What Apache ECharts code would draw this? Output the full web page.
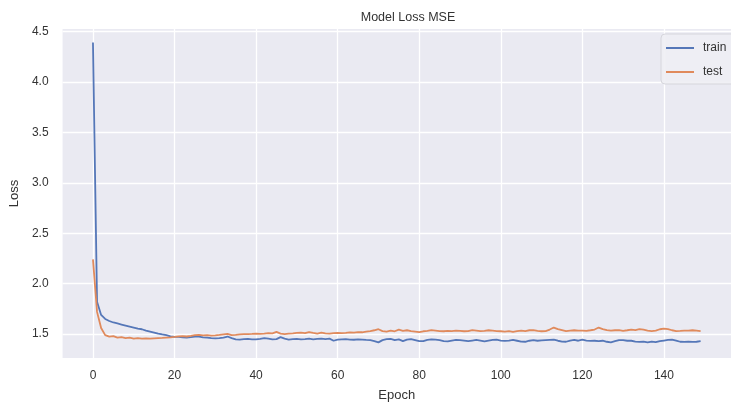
<!DOCTYPE html>
<html><head><meta charset="utf-8">
<script src="https://cdn.jsdelivr.net/npm/echarts@6/dist/echarts.min.js"></script>
<style>html,body{margin:0;padding:0;background:#fff}#c{width:731px;height:407px}</style>
</head><body><div id="c"></div>
<script>
const title = "Model Loss MSE";
const xName = "Epoch";
const yName = "Loss";
const seriesNames = ["train", "test"];
const xTicks = [0, 20, 40, 60, 80, 100, 120, 140];
const yTicks = [1.5, 2.0, 2.5, 3.0, 3.5, 4.0, 4.5];
const train = [4.39,1.82,1.69,1.65,1.63,1.615,1.605,1.595,1.585,1.575,
1.565,1.555,1.548,1.535,1.525,1.515,1.505,1.497,1.49,1.478,
1.472,1.472,1.468,1.465,1.47,1.476,1.474,1.468,1.465,1.46,
1.458,1.46,1.465,1.476,1.46,1.448,1.445,1.45,1.452,1.448,
1.447,1.452,1.46,1.455,1.448,1.45,1.47,1.455,1.446,1.45,
1.452,1.448,1.45,1.455,1.448,1.452,1.456,1.45,1.455,1.434,
1.445,1.448,1.45,1.446,1.444,1.447,1.445,1.442,1.44,1.43,
1.418,1.44,1.45,1.452,1.44,1.447,1.43,1.445,1.45,1.44,
1.43,1.43,1.442,1.447,1.445,1.44,1.43,1.428,1.436,1.442,
1.44,1.436,1.43,1.436,1.442,1.436,1.428,1.436,1.442,1.444,
1.436,1.432,1.436,1.442,1.434,1.426,1.424,1.434,1.44,1.434,
1.438,1.44,1.442,1.444,1.434,1.426,1.424,1.436,1.442,1.434,
1.444,1.436,1.432,1.434,1.43,1.434,1.424,1.418,1.43,1.44,
1.44,1.434,1.434,1.426,1.422,1.426,1.418,1.426,1.42,1.43,
1.436,1.442,1.444,1.436,1.424,1.422,1.426,1.422,1.424,1.43];
const test = [2.24,1.72,1.56,1.49,1.475,1.48,1.465,1.47,1.46,1.465,
1.455,1.46,1.455,1.457,1.455,1.458,1.46,1.462,1.465,1.468,
1.472,1.478,1.48,1.476,1.482,1.49,1.492,1.488,1.49,1.485,
1.488,1.492,1.498,1.502,1.49,1.492,1.498,1.5,1.5,1.502,
1.505,1.503,1.505,1.51,1.508,1.522,1.505,1.5,1.505,1.508,
1.512,1.515,1.51,1.52,1.512,1.505,1.515,1.508,1.505,1.51,
1.512,1.51,1.512,1.518,1.515,1.52,1.518,1.525,1.53,1.538,
1.548,1.53,1.525,1.535,1.528,1.545,1.532,1.538,1.53,1.525,
1.52,1.528,1.532,1.54,1.535,1.53,1.528,1.532,1.53,1.535,
1.532,1.528,1.53,1.54,1.535,1.53,1.532,1.538,1.535,1.53,
1.528,1.525,1.53,1.522,1.53,1.535,1.53,1.538,1.54,1.532,
1.528,1.53,1.545,1.565,1.55,1.54,1.53,1.535,1.538,1.535,
1.535,1.532,1.538,1.545,1.565,1.55,1.54,1.535,1.538,1.54,
1.532,1.538,1.545,1.54,1.55,1.545,1.535,1.53,1.535,1.548,
1.555,1.55,1.538,1.53,1.532,1.535,1.535,1.538,1.535,1.53];

const toXY = arr => arr.map((v, i) => [i, v]);
const txt = '#333333';
const font = 'Liberation Sans, Arial, sans-serif';
const chart = echarts.init(document.getElementById('c'), null, {renderer: 'canvas'});
chart.setOption({
  animation: false,
  backgroundColor: '#ffffff',
  title: {text: title, left: 403, textAlign: 'center', top: 6,
    textStyle: {fontSize: 12.5, fontWeight: 'normal', color: txt, fontFamily: font}},
  grid: {left: 62, right: -13, top: 29, bottom: 49, show: true, backgroundColor: '#eaeaf2', borderWidth: 0},
  legend: {
    orient: 'vertical', left: 661, top: 34, itemWidth: 28, itemHeight: 2, itemGap: 12,
    icon: 'rect', data: seriesNames,
    backgroundColor: 'rgba(238,238,244,0.9)', borderColor: '#d6d6dc', borderWidth: 1, borderRadius: 4,
    padding: [8, 40, 6, 5],
    textStyle: {fontSize: 12, color: txt, fontFamily: font, padding: [0, 0, 0, 4]}
  },
  xAxis: {
    type: 'value', min: -7.45, max: 156.45,
    name: xName, nameLocation: 'middle', nameGap: 31,
    nameTextStyle: {fontSize: 13, color: txt, fontFamily: font},
    axisLine: {show: false}, axisTick: {show: false, customValues: xTicks},
    axisLabel: {customValues: xTicks, color: txt, fontSize: 12, fontFamily: font, margin: 12},
    splitLine: {show: true, lineStyle: {color: '#ffffff', width: 1.3}}
  },
  yAxis: {
    type: 'value', min: 1.263, max: 4.524,
    name: yName, nameLocation: 'middle', nameGap: 38,
    nameTextStyle: {fontSize: 13, color: txt, fontFamily: font},
    axisLine: {show: false}, axisTick: {show: false, customValues: yTicks},
    axisLabel: {customValues: yTicks, color: txt, fontSize: 12, fontFamily: font, margin: 14,
      formatter: v => v.toFixed(1)},
    splitLine: {show: true, lineStyle: {color: '#ffffff', width: 1.3}}
  },
  series: [
    {name: seriesNames[0], type: 'line', data: toXY(train), showSymbol: false, symbol: 'none',
      lineStyle: {color: '#5577b8', width: 1.8}, itemStyle: {color: '#5577b8'}},
    {name: seriesNames[1], type: 'line', data: toXY(test), showSymbol: false, symbol: 'none',
      lineStyle: {color: '#e08a5c', width: 1.8}, itemStyle: {color: '#e08a5c'}}
  ]
});
</script></body></html>
